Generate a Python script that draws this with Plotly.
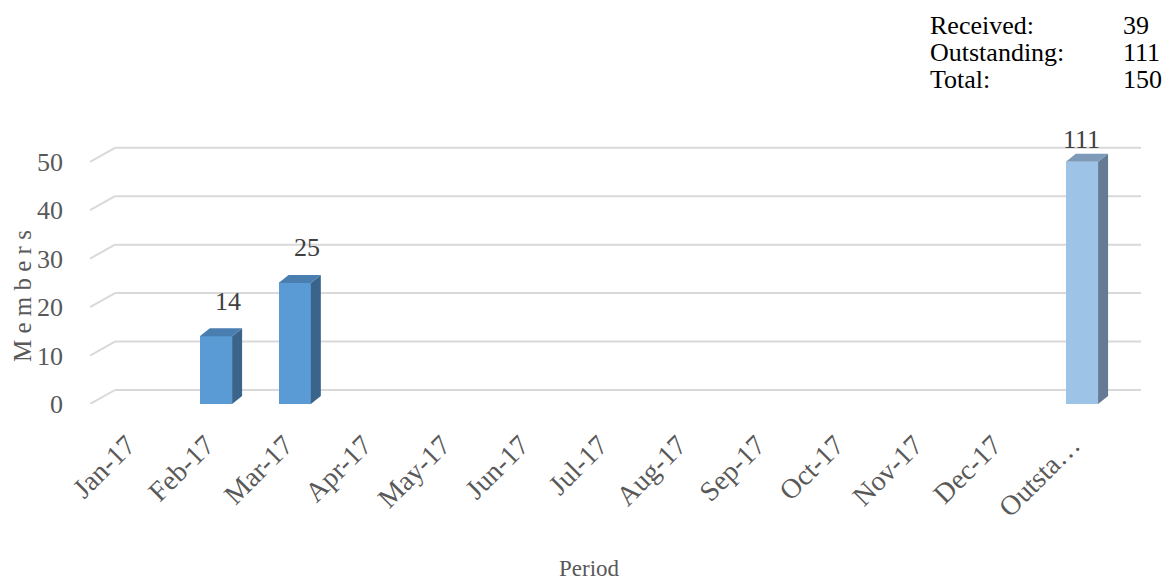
import numpy as np
import plotly.graph_objects as go

# ---------------- data ----------------
categories = ["Jan-17", "Feb-17", "Mar-17", "Apr-17", "May-17", "Jun-17", "Jul-17",
              "Aug-17", "Sep-17", "Oct-17", "Nov-17", "Dec-17", "Outstanding"]
tick_labels = ["Jan-17", "Feb-17", "Mar-17", "Apr-17", "May-17", "Jun-17", "Jul-17",
               "Aug-17", "Sep-17", "Oct-17", "Nov-17", "Dec-17", "Outsta\u2026"]
members = [0, 14, 25, 0, 0, 0, 0, 0, 0, 0, 0, 0, 111]
y_ticks = [0, 10, 20, 30, 40, 50]

received = sum(members[:-1])
outstanding = members[-1]
total = received + outstanding
summary_labels = ["Received:", "Outstanding:", "Total:"]
summary_values = [received, outstanding, total]

# ---------------- style ----------------
OFF = 8  # default page body margin
AXIS_MAX = 50
X0, X1 = -0.6, 12.75
Y1 = 54.5
W, H = 1170 - OFF, 583 - OFF
L = 90 - OFF
R = W - (1141 - OFF)
B = H - (404 - OFF)
T = 140 - OFF
PW = W - L - R
PH = H - T - B
px_per_x = PW / (X1 - X0)
px_per_y = PH / Y1

BAR_W = 0.41
DEPTH_DX = 10 / px_per_x
DEPTH_DY = 8 / px_per_y
BACK_DX = 25 / px_per_x
BACK_DY = 14 / px_per_y

FONT = "Liberation Serif"
front_cols = ["#5B9BD5"] * 12 + ["#9DC3E6"]
side_cols = ["#3A6489"] * 12 + ["#647B93"]
top_cols = ["#4A7DB0"] * 12 + ["#7D9BB8"]


def paper_x(px):  # px: screen pixel
    return (px - OFF - L) / PW


def paper_y(py):
    return (H - B - (py - OFF)) / PH


xs = np.arange(len(categories))
shown = np.minimum(np.array(members, dtype=float), AXIS_MAX)

fig = go.Figure()

# gridlines (back wall + floor diagonal)
for v in y_ticks:
    fig.add_shape(type="line", xref="x", yref="y", layer="below",
                  x0=X0, y0=v, x1=X0 + BACK_DX, y1=v + BACK_DY,
                  line=dict(color="#D9D9D9", width=2))
    fig.add_shape(type="line", xref="x", yref="y", layer="below",
                  x0=X0 + BACK_DX, y0=v + BACK_DY, x1=X1, y1=v + BACK_DY,
                  line=dict(color="#D9D9D9", width=2))

# front faces
fig.add_trace(go.Bar(x=xs, y=shown, width=BAR_W,
                     marker=dict(color=front_cols, line=dict(width=0)),
                     hovertext=categories, showlegend=False))

# side and top faces
for i, h in zip(xs, shown):
    if h <= 0:
        continue
    xr = i + BAR_W / 2
    xl = i - BAR_W / 2
    fig.add_trace(go.Scatter(
        x=[xr, xr + DEPTH_DX, xr + DEPTH_DX, xr, xr],
        y=[0, DEPTH_DY, h + DEPTH_DY, h, 0],
        fill="toself", fillcolor=side_cols[i], mode="lines",
        line=dict(width=0, color=side_cols[i]), hoverinfo="skip", showlegend=False))
    fig.add_trace(go.Scatter(
        x=[xl, xl + DEPTH_DX, xr + DEPTH_DX, xr, xl],
        y=[h, h + DEPTH_DY, h + DEPTH_DY, h, h],
        fill="toself", fillcolor=top_cols[i], mode="lines",
        line=dict(width=0, color=top_cols[i]), hoverinfo="skip", showlegend=False))

annotations = []
# data labels
for i, (v, h) in enumerate(zip(members, shown)):
    if v <= 0:
        continue
    clipped = v > AXIS_MAX
    annotations.append(dict(x=i, y=h, xref="x", yref="y", text=str(v),
                            showarrow=False, xanchor="center", yanchor="middle",
                            xshift=0 if clipped else 12, yshift=22 if clipped else 35,
                            font=dict(family=FONT, size=26, color="#404040")))

# summary box
for k, (lab, val) in enumerate(zip(summary_labels, summary_values)):
    py = 26 + k * 26.5
    annotations.append(dict(x=paper_x(929), y=paper_y(py), xref="paper", yref="paper",
                            text=lab, showarrow=False, xanchor="left", yanchor="middle",
                            borderpad=0,
                            font=dict(family=FONT, size=26, color="#000000")))
    annotations.append(dict(x=paper_x(1122), y=paper_y(py), xref="paper", yref="paper",
                            text=str(val), showarrow=False, xanchor="left", yanchor="middle",
                            borderpad=0,
                            font=dict(family=FONT, size=26, color="#000000")))

# axis titles
annotations.append(dict(x=paper_x(22), y=paper_y(296), xref="paper", yref="paper",
                        text="M e m b e r s", showarrow=False, textangle=-90,
                        xanchor="center", yanchor="middle", borderpad=0,
                        font=dict(family=FONT, size=25, color="#595959")))
annotations.append(dict(x=paper_x(589), y=paper_y(568), xref="paper", yref="paper",
                        text="Period", showarrow=False, xanchor="center", yanchor="middle",
                        font=dict(family=FONT, size=23, color="#595959")))

fig.update_layout(
    width=W, height=H,
    margin=dict(l=L, r=R, t=T, b=B, autoexpand=False),
    paper_bgcolor="white", plot_bgcolor="white",
    bargap=0, showlegend=False,
    annotations=annotations,
    xaxis=dict(range=[X0, X1], tickmode="array", tickvals=xs, ticktext=tick_labels,
               tickangle=-45, showgrid=False, zeroline=False, showline=False,
               ticks="", ticklabelstandoff=18, ticklabelshift=-10,
               tickfont=dict(family=FONT, size=28, color="#595959")),
    yaxis=dict(range=[0, Y1], tickmode="array", tickvals=y_ticks,
               showgrid=False, zeroline=False, showline=False, ticks="",
               ticklabelstandoff=26,
               tickfont=dict(family=FONT, size=26, color="#595959")),
)

fig.write_html("out.html")
